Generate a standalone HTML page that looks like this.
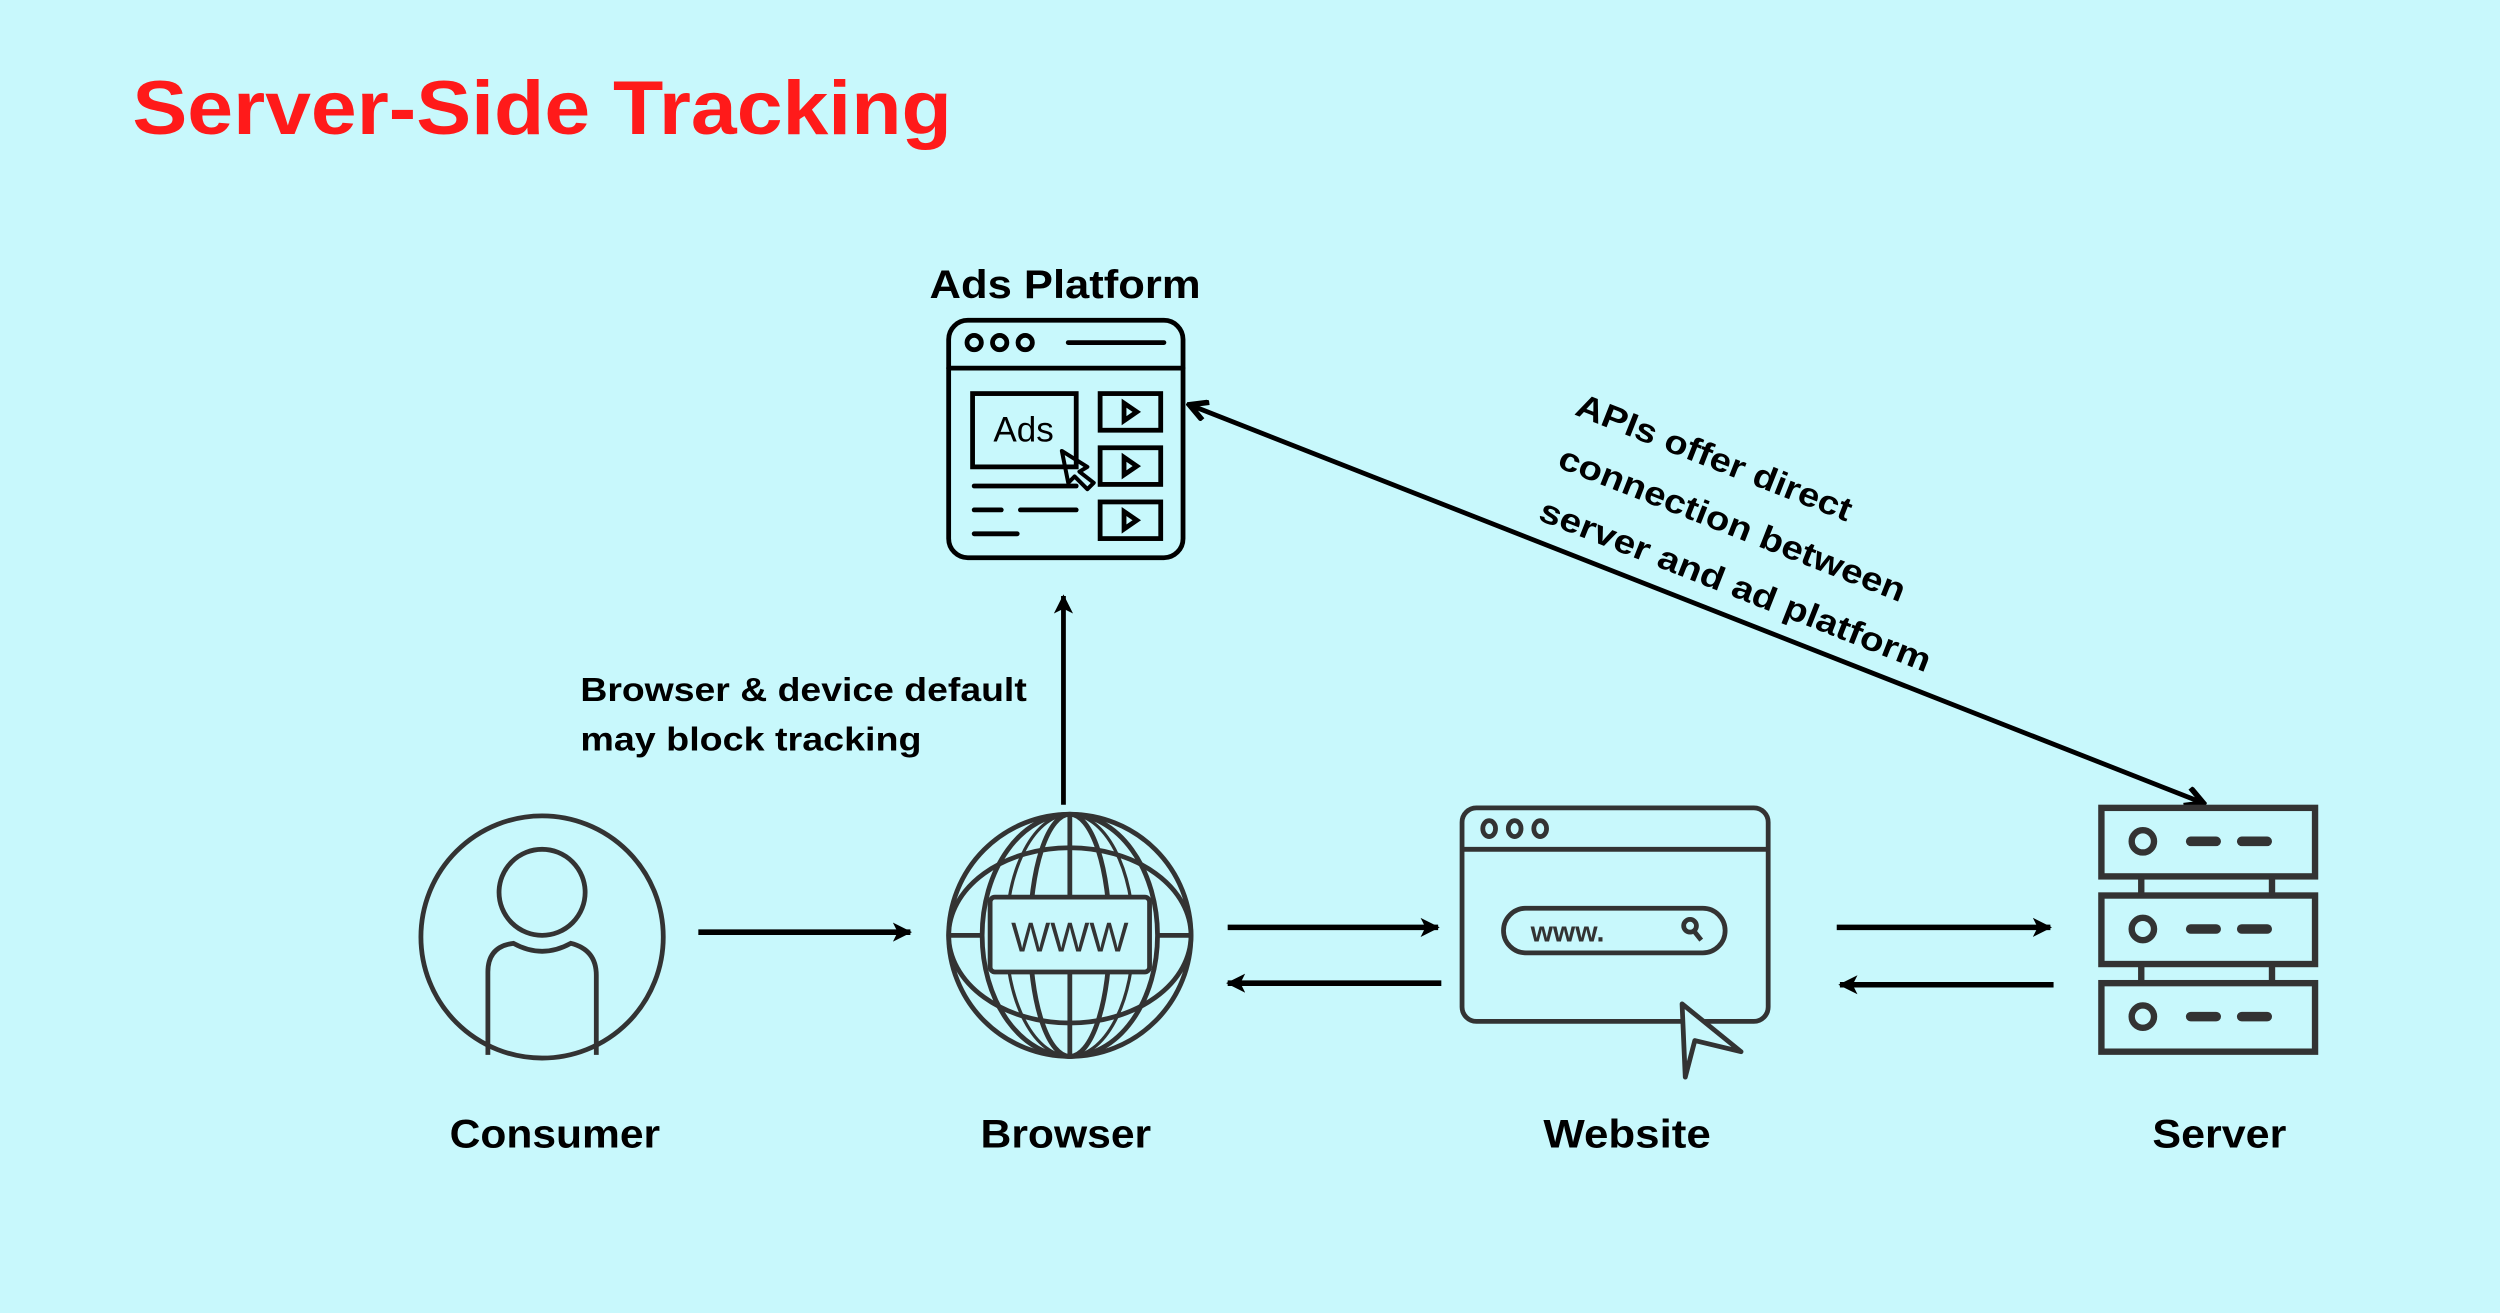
<!DOCTYPE html>
<html><head><meta charset="utf-8"><style>
html,body{margin:0;padding:0;background:#c8f8fc;}
svg{display:block;}
text{font-family:"Liberation Sans",sans-serif;}
</style></head><body>
<svg width="2500" height="1313" viewBox="0 0 1568 824" preserveAspectRatio="none" xmlns="http://www.w3.org/2000/svg">
<defs>
<marker id="ah" markerWidth="14" markerHeight="14" refX="11" refY="7" orient="auto" markerUnits="userSpaceOnUse"><path d="M0,1 L12,7 L0,13 L3,7 Z" fill="#000"/></marker>
<marker id="as" markerWidth="14" markerHeight="14" refX="12" refY="7" orient="auto-start-reverse" markerUnits="userSpaceOnUse"><path d="M1,1 L12,7 L1,13" fill="none" stroke="#000" stroke-width="3.5"/></marker>
</defs>
<rect width="1568" height="824" fill="#c8f8fc"/>
<text x="83" y="84" font-size="48" font-weight="bold" fill="#ff1a1a" textLength="514" lengthAdjust="spacingAndGlyphs">Server-Side Tracking</text>

<!-- Ads platform -->
<text x="583" y="187" font-size="25" font-weight="bold" textLength="170" lengthAdjust="spacingAndGlyphs">Ads Platform</text>
<g fill="none" stroke="#000" stroke-width="3" stroke-linecap="round">
<rect x="595" y="201" width="147" height="149" rx="12"/>
<line x1="595" y1="231" x2="742" y2="231"/>
<circle cx="611" cy="215" r="4.5"/><circle cx="627" cy="215" r="4.5"/><circle cx="643" cy="215" r="4.5"/>
<line x1="670" y1="215" x2="730" y2="215"/>
<rect x="610" y="247" width="65" height="46"/>
<rect x="690" y="247" width="38" height="23"/><rect x="690" y="281" width="38" height="23"/><rect x="690" y="315" width="38" height="23"/>
<path d="M705,253 L705,264 L713,258.5Z"/><path d="M705,287 L705,298 L713,292.5Z"/><path d="M705,321 L705,332 L713,326.5Z"/>
<line x1="611" y1="305" x2="675" y2="305"/>
<line x1="611" y1="320" x2="628" y2="320"/><line x1="640" y1="320" x2="675" y2="320"/>
<line x1="611" y1="335" x2="638" y2="335"/>
<path d="M666,283 L682,293 L677,296 L686,303 L682,307 L674,299 L670,303 Z" stroke-width="2.5" stroke-linejoin="round"/>
</g>
<text x="642" y="277" font-size="22" text-anchor="middle">Ads</text>

<!-- up arrow -->
<line x1="667" y1="505" x2="667" y2="374" stroke="#000" stroke-width="3" marker-end="url(#ah)"/>
<text x="364" y="440" font-size="21" font-weight="bold" textLength="280" lengthAdjust="spacingAndGlyphs">Browser &amp; device default</text>
<text x="364" y="471" font-size="21" font-weight="bold" textLength="214" lengthAdjust="spacingAndGlyphs">may block tracking</text>

<!-- diagonal -->
<line x1="1382" y1="504" x2="746" y2="254" stroke="#000" stroke-width="3" marker-start="url(#as)" marker-end="url(#as)"/>
<g font-size="21" font-weight="bold">
<text x="987" y="260" transform="rotate(21.5 987 260)" textLength="184" lengthAdjust="spacingAndGlyphs">APIs offer direct</text>
<text x="976" y="293" transform="rotate(21.5 976 293)" textLength="232" lengthAdjust="spacingAndGlyphs">connection between</text>
<text x="964" y="326" transform="rotate(21.5 964 326)" textLength="262" lengthAdjust="spacingAndGlyphs">server and ad platform</text>
</g>

<!-- consumer -->
<g fill="none" stroke="#333" stroke-width="3">
<circle cx="340" cy="588" r="76"/>
<circle cx="340" cy="560" r="27"/>
<path d="M306,662 L306,610 Q306,594 322,592 Q340,602 358,592 Q374,596 374,612 L374,662"/>
</g>

<!-- browser globe -->
<g fill="none" stroke="#333" stroke-width="3">
<circle cx="671" cy="587" r="76"/>
<ellipse cx="671" cy="587" rx="76" ry="55"/>
<ellipse cx="671" cy="587" rx="55" ry="76"/>
<ellipse cx="671" cy="587" rx="25" ry="76"/>
<ellipse cx="671" cy="587" rx="40" ry="76" stroke-width="2"/>
<line x1="671" y1="511" x2="671" y2="663"/>
<rect x="621" y="563" width="100" height="47" rx="3" fill="#c8f8fc"/>
<line x1="596" y1="587" x2="616" y2="587"/><line x1="726" y1="587" x2="746" y2="587"/>
</g>
<text x="671" y="597" font-size="26" text-anchor="middle" fill="#333">WWW</text>

<!-- horizontal arrows -->
<g stroke="#000" stroke-width="3.5">
<line x1="438" y1="585" x2="571" y2="585" marker-end="url(#ah)"/>
<line x1="770" y1="582" x2="902" y2="582" marker-end="url(#ah)"/>
<line x1="904" y1="617" x2="770" y2="617" marker-end="url(#ah)"/>
<line x1="1152" y1="582" x2="1286" y2="582" marker-end="url(#ah)"/>
<line x1="1288" y1="618" x2="1154" y2="618" marker-end="url(#ah)"/>
</g>

<!-- website -->
<g fill="none" stroke="#333" stroke-width="3">
<rect x="917" y="507" width="192" height="134" rx="9"/>
<line x1="917" y1="533" x2="1109" y2="533"/>
<ellipse cx="934" cy="520" rx="4" ry="5"/><ellipse cx="950" cy="520" rx="4" ry="5"/><ellipse cx="966" cy="520" rx="4" ry="5"/>
<rect x="943" y="570" width="139" height="28" rx="14"/>
<circle cx="1060" cy="581" r="4"/><line x1="1063" y1="585" x2="1067" y2="590"/>
<path d="M1055,630 L1057,676 L1063,653 L1092,660 Z" fill="#c8f8fc" stroke-linejoin="round"/>
</g>
<text x="960" y="591" font-size="18" font-weight="bold" fill="#333">www.</text>

<!-- server -->
<g fill="none" stroke="#333" stroke-width="4">
<rect x="1318" y="507" width="134" height="43"/>
<rect x="1318" y="562" width="134" height="43"/>
<rect x="1318" y="617" width="134" height="43"/>
<line x1="1343" y1="550" x2="1343" y2="562"/><line x1="1425" y1="550" x2="1425" y2="562"/>
<line x1="1343" y1="605" x2="1343" y2="617"/><line x1="1425" y1="605" x2="1425" y2="617"/>
<circle cx="1344" cy="528" r="7"/><circle cx="1344" cy="583" r="7"/><circle cx="1344" cy="638" r="7"/>
<g stroke-width="6" stroke-linecap="round">
<line x1="1374" y1="528" x2="1390" y2="528"/><line x1="1406" y1="528" x2="1422" y2="528"/>
<line x1="1374" y1="583" x2="1390" y2="583"/><line x1="1406" y1="583" x2="1422" y2="583"/>
<line x1="1374" y1="638" x2="1390" y2="638"/><line x1="1406" y1="638" x2="1422" y2="638"/>
</g>
</g>

<!-- labels -->
<g font-size="25" font-weight="bold">
<text x="282" y="720" textLength="132" lengthAdjust="spacingAndGlyphs">Consumer</text>
<text x="615" y="720" textLength="107" lengthAdjust="spacingAndGlyphs">Browser</text>
<text x="968" y="720" textLength="105" lengthAdjust="spacingAndGlyphs">Website</text>
<text x="1350" y="720" textLength="84" lengthAdjust="spacingAndGlyphs">Server</text>
</g>
</svg>
</body></html>
